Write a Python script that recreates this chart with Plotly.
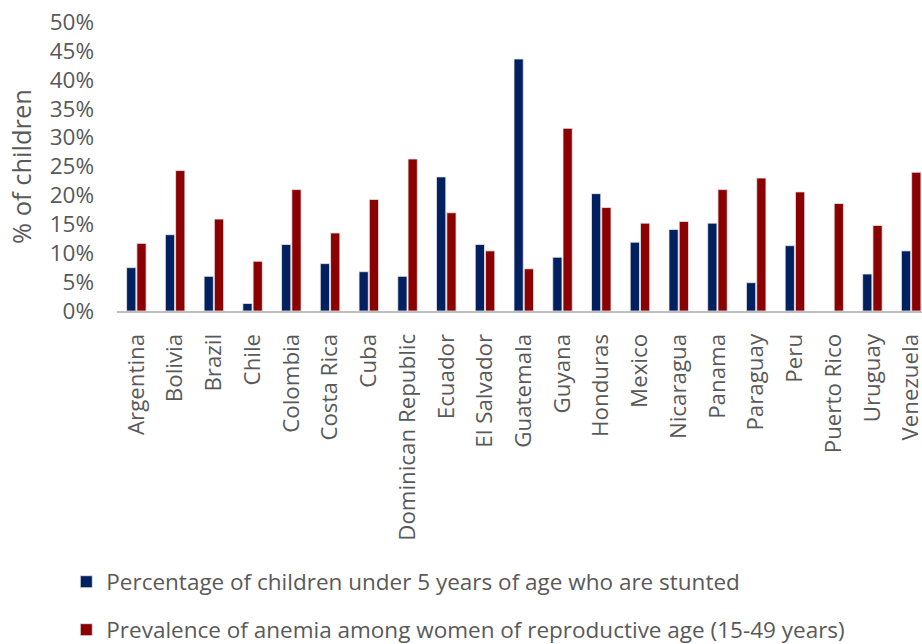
import plotly.graph_objects as go

countries = ["Argentina", "Bolivia", "Brazil", "Chile", "Colombia", "Costa Rica", "Cuba",
             "Dominican Republic", "Ecuador", "El Salvador", "Guatemala", "Guyana", "Honduras",
             "Mexico", "Nicaragua", "Panama", "Paraguay", "Peru", "Puerto Rico", "Uruguay", "Venezuela"]
stunting = [7.5, 13.2, 6.0, 1.3, 11.5, 8.2, 6.8, 6.0, 23.2, 11.5, 43.6, 9.3, 20.3,
            11.9, 14.1, 15.2, 4.9, 11.3, None, 6.4, 10.4]
anemia = [11.7, 24.3, 15.9, 8.6, 21.0, 13.5, 19.3, 26.3, 17.0, 10.4, 7.3, 31.6, 17.9,
          15.2, 15.5, 21.0, 23.0, 20.6, 18.6, 14.8, 24.0]
stunting_name = "Percentage of children under 5 years of age who are stunted"
anemia_name = "Prevalence of anemia among women of reproductive age (15-49 years)"
y_ticks = [0, 5, 10, 15, 20, 25, 30, 35, 40, 45, 50]

FONT = "Open Sans"
GRAY = "#595959"

fig = go.Figure()
fig.add_trace(go.Bar(x=countries, y=[None if v is None else v / 100 for v in stunting],
                     name=stunting_name, marker=dict(color="#002060", line=dict(color="#e8e8e8", width=0.8)),
                     legend="legend"))
fig.add_trace(go.Bar(x=countries, y=[v / 100 for v in anemia],
                     name=anemia_name, marker=dict(color="#8B0000", line=dict(color="#e8e8e8", width=0.8)),
                     legend="legend2"))

fig.update_layout(
    width=922, height=644,
    margin=dict(l=117, r=0, t=22, b=333, autoexpand=False),
    plot_bgcolor="white", paper_bgcolor="white",
    barmode="group", bargap=0.47, bargroupgap=0.1,
    font=dict(family=FONT, color=GRAY),
    showlegend=True,
    legend=dict(x=-0.063, xanchor="left", y=-0.938, yanchor="middle", bgcolor="rgba(0,0,0,0)",
                font=dict(size=22.5, color=GRAY, family=FONT), itemwidth=30),
    legend2=dict(x=-0.063, xanchor="left", y=-1.104, yanchor="middle", bgcolor="rgba(0,0,0,0)",
                 font=dict(size=22.5, color=GRAY, family=FONT), itemwidth=30),
)
fig.update_xaxes(
    range=[-0.5, 20.28], tickangle=-90, showline=True, linecolor="#bfbfbf", linewidth=2,
    ticks="", showgrid=False, tickfont=dict(size=22.3, color=GRAY, family=FONT),
    ticklabelstandoff=12, automargin=False,
)
fig.update_yaxes(
    range=[0, 0.5], tickvals=[t / 100 for t in y_ticks], ticktext=[f"{t}%" for t in y_ticks],
    showgrid=False, zeroline=False, showline=False, ticks="",
    tickfont=dict(size=22.5, color=GRAY, family=FONT), ticklabelstandoff=22, automargin=False,
    title=dict(text="% of children", font=dict(size=25.5, color=GRAY, family=FONT), standoff=10),
)

fig.write_html("out.html")
